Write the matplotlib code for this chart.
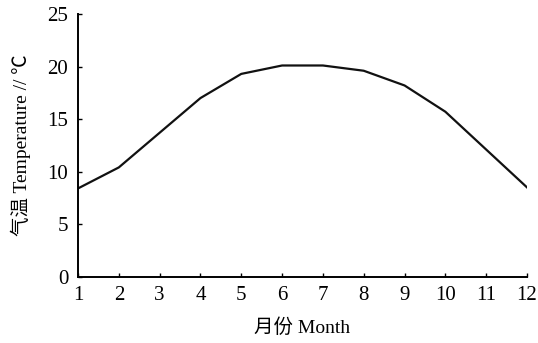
import matplotlib.pyplot as plt
import numpy as np

plt.rcParams['font.family'] = ['Liberation Serif', 'Noto Sans CJK SC', 'DejaVu Sans']

months = np.arange(1, 13)
temperature = [8.4, 10.4, 13.7, 17.0, 19.3, 20.1, 20.1, 19.6, 18.2, 15.7, 12.1, 8.5]

fig = plt.figure(figsize=(5.38, 3.43), dpi=100)
ax = fig.add_axes([78 / 538, 1 - 276.7 / 343, (527 - 78) / 538, (276.7 - 14) / 343])

ax.plot(months, temperature, color='#111111', linewidth=1.6)

ax.set_xlim(1, 12)
ax.set_ylim(0, 25)
ax.set_xticks(months)
ax.set_yticks([0, 5, 10, 15, 20, 25])
ax.tick_params(direction='in', length=3, width=1, labelsize=15)
ax.tick_params(axis='x', pad=7)
ax.tick_params(axis='y', pad=7)

for side in ['top', 'right']:
    ax.spines[side].set_visible(False)
for side in ['left', 'bottom']:
    ax.spines[side].set_linewidth(1.4)

ax.set_xlabel('月份 Month', fontsize=14, labelpad=9)
ax.set_ylabel('气温 Temperature // ℃', fontsize=14, labelpad=12)

plt.savefig('out.png', dpi=100)
